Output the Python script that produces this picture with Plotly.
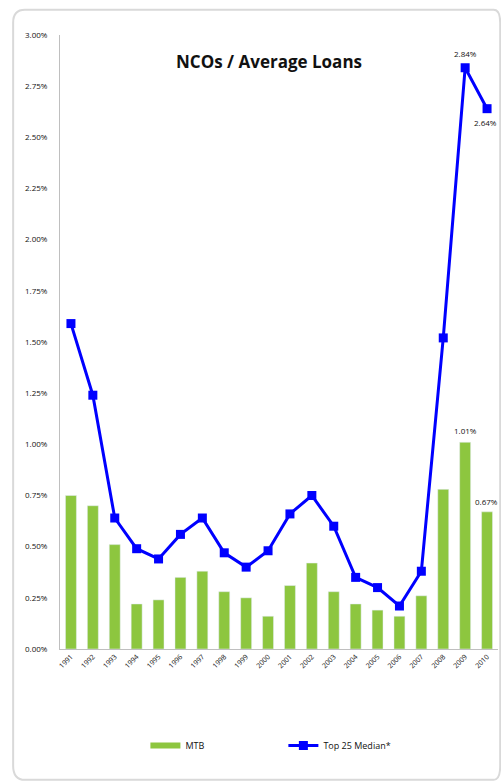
import plotly.graph_objects as go

years = [str(y) for y in range(1991, 2011)]
mtb = [0.75, 0.70, 0.51, 0.22, 0.24, 0.35, 0.38, 0.28, 0.25, 0.16,
       0.31, 0.42, 0.28, 0.22, 0.19, 0.16, 0.26, 0.78, 1.01, 0.67]
top25 = [1.59, 1.24, 0.64, 0.49, 0.44, 0.56, 0.64, 0.47, 0.40, 0.48,
         0.66, 0.75, 0.60, 0.35, 0.30, 0.21, 0.38, 1.52, 2.84, 2.64]
yticks = [0, 0.25, 0.5, 0.75, 1.0, 1.25, 1.5, 1.75, 2.0, 2.25, 2.5, 2.75, 3.0]
ytext = ["%.2f%%" % v for v in yticks]

green = "#8DC63F"
blue = "#0000FF"
font = "Open Sans, Liberation Sans, sans-serif"

fig = go.Figure()
fig.add_trace(go.Bar(x=years, y=mtb, name="MTB", marker_color=green, showlegend=False))
fig.add_trace(go.Scatter(x=years, y=top25, name="Top 25 Median*", mode="lines+markers",
                         line=dict(color=blue, width=3),
                         marker=dict(symbol="square", size=9, color=blue),
                         cliponaxis=False, legend="legend2"))
# legend-only entry for bars (wide swatch like the reference)
fig.add_trace(go.Scatter(x=[None], y=[None], name="MTB", mode="lines",
                         line=dict(color=green, width=6), legend="legend"))

i09 = years.index("2009")
i10 = years.index("2010")
anns = [
    dict(x=i09, y=top25[i09], text="2.84%", yshift=14),
    dict(x=i10, y=top25[i10], text="2.64%", yshift=-14, xshift=-2),
    dict(x=i09, y=mtb[i09], text="1.01%", yshift=12),
    dict(x=i10, y=mtb[i10], text="0.67%", yshift=10, xshift=-1),
]
for a in anns:
    a.update(xref="x", yref="y", showarrow=False,
             font=dict(size=8, color="#111", family=font))
fig.update_layout(annotations=anns)

fig.add_annotation(text="<b>NCOs / Average Loans</b>", xref="paper", yref="paper",
                   x=0.477, y=0.979, showarrow=False,
                   font=dict(size=17, color="#111", family=font))

fig.add_shape(type="path", xref="paper", yref="paper",
              path="M -0.08,1.041 L 0.99,1.041 Q 1.005,1.041 1.005,1.02 L 1.005,-0.19 Q 1.005,-0.213 0.99,-0.213 L -0.08,-0.213 Q -0.107,-0.213 -0.107,-0.19 L -0.107,1.02 Q -0.107,1.041 -0.08,1.041 Z",
              line=dict(color="#D9D9D9", width=2))

fig.update_layout(
    width=501, height=783,
    margin=dict(l=60, r=3, t=35, b=134),
    paper_bgcolor="white", plot_bgcolor="white",
    font=dict(family=font, size=8, color="#111"),
    showlegend=True,
    legend=dict(orientation="h", x=0.195, y=-0.157, xanchor="left", yanchor="middle",
                font=dict(size=9, color="#111"), bgcolor="rgba(0,0,0,0)"),
    legend2=dict(orientation="h", x=0.51, y=-0.157, xanchor="left", yanchor="middle",
                 font=dict(size=9, color="#111"), bgcolor="rgba(0,0,0,0)"),
    bargap=0.5,
    xaxis=dict(type="category", range=[-0.5, len(years) - 0.5], tickangle=-45,
               tickfont=dict(size=7), showline=True,
               linecolor="#BFBFBF", ticks="", showgrid=False),
    yaxis=dict(range=[0, 3.0], tickvals=yticks, ticktext=ytext, tickfont=dict(size=8),
               showline=True, linecolor="#BFBFBF", showgrid=False, zeroline=False,
               ticks="", ticklabelstandoff=10),
)

fig.write_html("out.html", config={"displayModeBar": False})

# remove the browser's default page margin so the figure fills the window exactly
with open("out.html", encoding="utf-8") as f:
    html = f.read()
html = html.replace("<body>", '<body style="margin:0;overflow:hidden">', 1)
with open("out.html", "w", encoding="utf-8") as f:
    f.write(html)
